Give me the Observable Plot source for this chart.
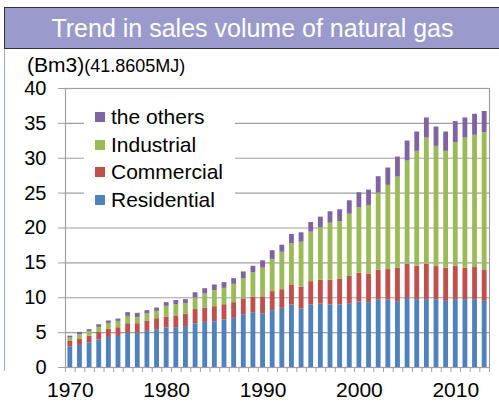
<!DOCTYPE html>
<html>
<head>
<meta charset="utf-8">
<script src="https://cdn.jsdelivr.net/npm/d3@7"></script>
<script src="https://cdn.jsdelivr.net/npm/@observablehq/plot@0.6"></script>
<style>
  body { margin: 0; background: #fff; font-family: "Liberation Sans", Arial, sans-serif; }
  #wrap { position: relative; width: 499px; height: 403px; overflow: hidden; }
  #banner { position: absolute; left: 4px; top: 7px; width: 495px; height: 40px;
    background: #9a9acc; border-top: 1px solid #333; border-bottom: 1px solid #333; border-left: 1px solid #333;
    color: #fff; font-size: 25px; line-height: 40px; text-align: center; box-sizing: content-box; }
  #leftline { position: absolute; left: 4px; top: 49px; width: 0; height: 322px; border-left: 1px solid #a8a8f0; }
  #chart { position: absolute; left: 0; top: 50px; }
  #unit { position: absolute; left: 27px; top: 53px; white-space: nowrap; color: #000; }
  #unit .a { font-size: 21px; }
  #unit .b { font-size: 18px; }
  #legend { position: absolute; left: 84px; top: 101px; width: 151px; height: 112px; background: #fff; }
  #legend .item { position: absolute; left: 11px; height: 24px; display: flex; align-items: center; font-size: 21px; color: #000; white-space: nowrap; }
  #legend .sw { width: 10px; height: 10px; margin-right: 6px; }
</style>
</head>
<body>
<div id="wrap">
  <div id="banner">Trend in sales volume of natural gas</div>
  <div id="leftline"></div>
  <div id="chart"></div>
  <div id="unit"><span class="a">(Bm3)</span><span class="b">(41.8605MJ)</span></div>
  <div id="legend"></div>
</div>
<script>
// Categories (years)
const years = [1970,1971,1972,1973,1974,1975,1976,1977,1978,1979,
               1980,1981,1982,1983,1984,1985,1986,1987,1988,1989,
               1990,1991,1992,1993,1994,1995,1996,1997,1998,1999,
               2000,2001,2002,2003,2004,2005,2006,2007,2008,2009,
               2010,2011,2012,2013];
// Series values (Bm3)
const residential = [2.97,3.16,3.55,3.93,4.31,4.45,4.94,4.94,5.17,5.42,
                     5.66,5.70,5.87,6.27,6.47,6.57,6.81,7.04,7.57,7.86,
                     7.70,8.15,8.48,8.96,8.39,8.96,9.11,8.96,8.96,9.15,
                     9.39,9.30,9.65,9.68,9.44,9.91,9.73,9.73,9.68,9.48,
                     9.73,9.73,9.73,9.48];
const commercial = [0.77,0.86,0.96,1.10,1.15,1.25,1.34,1.34,1.44,1.58,
                    1.52,1.70,1.77,2.04,2.01,2.15,2.19,2.26,2.26,2.20,
                    2.43,2.73,2.68,2.88,3.10,3.35,3.39,3.54,3.68,3.92,
                    4.11,4.10,4.29,4.36,4.79,4.89,4.78,5.07,4.79,4.75,
                    4.78,4.50,4.60,4.52];
const industrial = [0.48,0.68,0.62,0.72,0.86,0.91,1.05,0.90,1.06,1.05,
                    1.59,1.62,1.53,1.66,2.06,2.30,2.35,2.63,2.91,3.54,
                    4.12,4.62,5.36,5.89,6.47,7.09,7.53,8.19,8.25,8.91,
                    9.40,9.83,11.06,12.07,13.07,14.80,16.48,18.10,17.24,16.76,
                    17.67,18.67,18.96,19.68];
const others = [0.28,0.33,0.29,0.38,0.35,0.34,0.53,0.58,0.48,0.48,
                0.53,0.58,0.56,0.74,0.76,0.81,0.82,0.81,0.96,0.91,
                1.05,1.25,1.01,1.34,1.35,1.39,1.52,1.64,1.72,1.92,
                2.15,2.20,2.35,2.49,2.87,2.87,2.77,2.88,2.77,2.77,
                3.08,2.88,3.02,3.02];
// Series names and colours
const seriesNames = ["Residential", "Commercial", "Industrial", "the others"];
const seriesColors = ["#4f81bd", "#c0504d", "#9bbb59", "#8064a2"];
// Tick labels
const yTicks = [0, 5, 10, 15, 20, 25, 30, 35, 40];
const xLabels = [1970, 1980, 1990, 2000, 2010];

const seriesValues = [residential, commercial, industrial, others];
const rows = [];
years.forEach((yr, i) => {
  seriesNames.forEach((s, k) => rows.push({year: yr, series: s, value: seriesValues[k][i]}));
});

const W = 499, H = 353;
const mL = 65, mR = 10, mT = 38, mB = 36;
const bw = (W - mL - mR) / years.length;

const chart = Plot.plot({
  width: W,
  height: H,
  marginLeft: mL,
  marginRight: mR,
  marginTop: mT,
  marginBottom: mB,
  style: { fontFamily: "'Liberation Sans', Arial, sans-serif", fontSize: "20px", color: "#000", background: "transparent", overflow: "visible" },
  x: { type: "band", domain: years, padding: 0, round: false, label: null },
  y: { domain: [0, 40], label: null },
  color: { domain: seriesNames, range: seriesColors },
  marks: [
    Plot.gridY(yTicks, { stroke: "#a0a0a0", strokeOpacity: 1, strokeWidth: 1.2 }),
    Plot.axisY(yTicks, { tickSize: 7, tickPadding: 12, stroke: "#a0a0a0", strokeOpacity: 1, fontSize: 20, label: null }),
    Plot.frame({ stroke: "#a0a0a0", strokeWidth: 1.2 }),
    Plot.barY(rows, { x: "year", y: "value", fill: "series", insetLeft: 2.4, insetRight: 2.4 }),
    Plot.axisX(years, { tickSize: 5, tickFormat: () => "", dx: -bw / 2, stroke: "#a0a0a0", strokeOpacity: 1, label: null }),
    Plot.axisX([years[years.length - 1]], { tickSize: 5, tickFormat: () => "", dx: bw / 2, stroke: "#a0a0a0", strokeOpacity: 1, label: null }),
    Plot.axisX(xLabels, { tickSize: 0, tickPadding: 15, fontSize: 21, tickFormat: d => String(d), label: null })
  ]
});
document.getElementById("chart").appendChild(chart);

// Legend (top to bottom: the others, Industrial, Commercial, Residential)
const legend = document.getElementById("legend");
const order = [3, 2, 1, 0];
order.forEach((k, j) => {
  const item = document.createElement("div");
  item.className = "item";
  item.style.top = (4 + j * 27.7) + "px";
  const sw = document.createElement("span");
  sw.className = "sw";
  sw.style.background = seriesColors[k];
  item.appendChild(sw);
  item.appendChild(document.createTextNode(seriesNames[k]));
  legend.appendChild(item);
});
</script>
</body>
</html>
